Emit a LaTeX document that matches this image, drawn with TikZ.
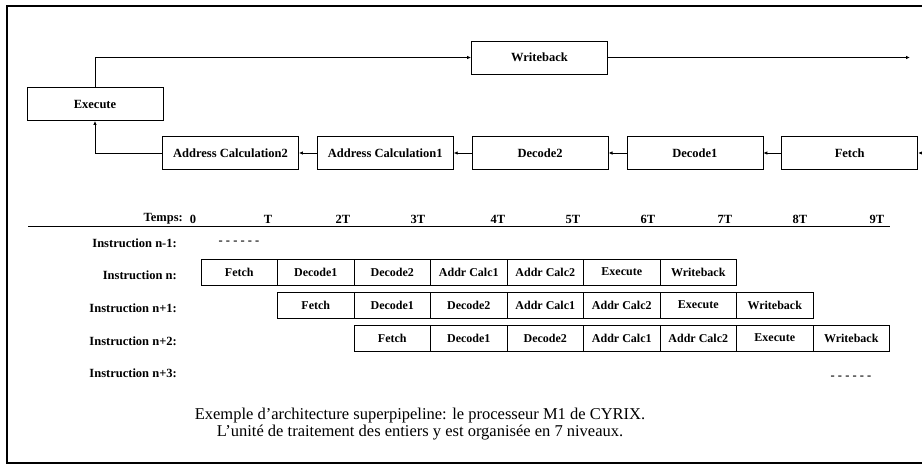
\documentclass[tikz,border=0pt]{standalone}
\usepackage{fontspec}
\setmainfont{Liberation Serif}
\usetikzlibrary{arrows.meta, positioning}
\tikzset{
  stage/.style={
    rectangle, draw, thick, minimum width=136pt, minimum height=33pt,
    inner sep=0pt, font=\fontsize{12.5}{14}\selectfont\bfseries
  },
  cell/.style={
    rectangle, draw, thick, minimum width=76.5pt, minimum height=26pt,
    inner sep=0pt, font=\fontsize{12}{14}\selectfont\bfseries
  },
  rowlabel/.style={anchor=east, inner sep=0pt, font=\fontsize{12.5}{14}\selectfont\bfseries},
  tick/.style={inner sep=0pt, font=\fontsize{12.5}{14}\selectfont\bfseries},
  caption/.style={align=center, inner sep=0pt, font=\fontsize{16.5}{16.5}\selectfont},
  arrow/.style={-{Latex[length=4pt,width=3.5pt]}, thick},
  frame/.style={line width=1.5pt},
}

\begin{document}
\begin{tikzpicture}[x=1pt, y=-1pt, node distance=18pt]
  \useasboundingbox (0,0) rectangle (922,466);

  % ── Frame ─────────────────────────────────────────────────────────────────
  \draw[frame] (922,6) -- (7,6) -- (7,463) -- (922,463);

  % ── Pipeline stages ───────────────────────────────────────────────────────
  \node[stage] (exec)  at (95,104)    {Execute};
  \node[stage] (wback) at (539.5,57.5) {Writeback};
  \node[stage] (acalc2) at (230.5,153) {Address Calculation2};
  \node[stage, right=of acalc2] (acalc1) {Address Calculation1};
  \node[stage, right=of acalc1] (dec2)   {Decode2};
  \node[stage, right=of dec2]   (dec1)   {Decode1};
  \node[stage, right=of dec1]   (fetch)  {Fetch};

  \coordinate[right=6pt of fetch.east] (in);
  \coordinate (out) at (910,57.5);

  % ── Pipeline arrows ───────────────────────────────────────────────────────
  \draw[arrow] (in)          -- (fetch.east);
  \draw[arrow] (fetch.west)  -- (dec1.east);
  \draw[arrow] (dec1.west)   -- (dec2.east);
  \draw[arrow] (dec2.west)   -- (acalc1.east);
  \draw[arrow] (acalc1.west) -- (acalc2.east);
  \draw[arrow] (acalc2.west) -| (exec.south);
  \draw[arrow] (exec.north)  |- (wback.west);
  \draw[arrow] (wback.east)  -- (out);

  % ── Time axis ─────────────────────────────────────────────────────────────
  \node[rowlabel] (temps) at (183,219) {Temps:};
  \foreach \t/\x [count=\k from 0] in {0/193, T/268, 2T/343, 3T/418, 4T/498,
                                       5T/573, 6T/648, 7T/725, 8T/800, 9T/877}
    \node[tick] (t\k) at (\x,219) {\t};
  \draw[thick] (28,226) -- (890,226);

  % ── Instruction rows ──────────────────────────────────────────────────────
  \foreach \lab/\y [count=\k] in {n-1/243, n/275, n+1/308, n+2/341, n+3/373}
    \node[rowlabel] (row\k) at (177,\y) {Instruction \lab:};

  \foreach \r in {0,1,2}
    \foreach \s [count=\i from 0] in {Fetch, Decode1, Decode2, Addr Calc1,
                                      Addr Calc2, Execute, Writeback}
      \node[cell] (c\r\i) at ({239.25+76.5*(\i+\r)}, {272+33*\r}) {\s};

  \node[tick] (dashA) at (239,243) {- - - - - -};
  \node[tick] (dashB) at (851,378) {- - - - - -};

  % ── Caption ───────────────────────────────────────────────────────────────
  \node[caption] (caption) at (420,424)
    {Exemple d'architecture superpipeline: le processeur M1 de CYRIX.\\
     L'unité de traitement des entiers y est organisée en 7 niveaux.};

\end{tikzpicture}
\end{document}
